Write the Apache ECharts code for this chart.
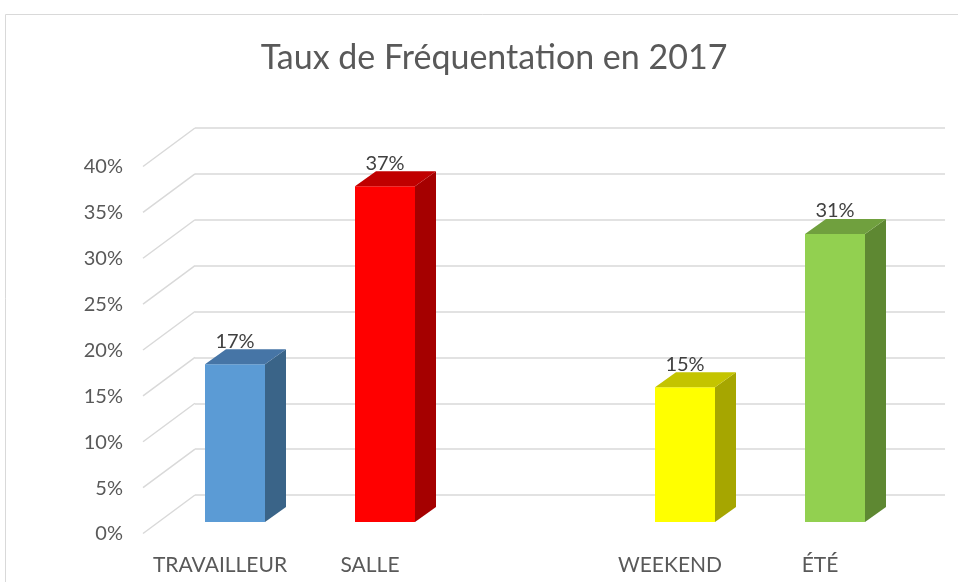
<!DOCTYPE html>
<html>
<head>
<meta charset="utf-8">
<script src="https://cdn.jsdelivr.net/npm/echarts@6/dist/echarts.min.js"></script>
<style>
  html, body { margin: 0; padding: 0; background: #fff; }
  #echarts { width: 958px; height: 582px; }
</style>
</head>
<body>
<div id="echarts"></div>
<script>
// data
const categories = ['TRAVAILLEUR', 'SALLE', '', 'WEEKEND', 'ÉTÉ'];
const rates = [0.172, 0.366, null, 0.147, 0.314];
const gridTicks = [0, 0.05, 0.1, 0.15, 0.2, 0.25, 0.3, 0.35, 0.4];

// front / top / side shades for each column
const faceColors = ['#5b9bd5', '#ff0000', '#999999', '#ffff00', '#92d050'];
const topColors = ['#4675a6', '#c00000', '#777777', '#c4c400', '#70a03e'];
const sideColors = ['#3a6488', '#a50000', '#666666', '#a6a600', '#5e8832'];

const textColor = '#595959';
const fontFamily = 'Lato, "Open Sans", sans-serif';
const depth = [21, -15];        // bar depth offset
const floorShift = [-52, 38.5]; // back wall -> front edge

const pct = v => Math.round(v * 100) + '%';

const chart = echarts.init(document.querySelector('#echarts'));

chart.setOption({
  animation: false,
  title: {
    text: 'Taux de Fréquentation en 2017',
    left: 489,
    textAlign: 'center',
    top: 36,
    textStyle: { color: textColor, fontFamily: fontFamily, fontWeight: 'normal', fontSize: 34 }
  },
  graphic: [{
    type: 'rect',
    shape: { x: 5.5, y: 14.5, width: 1000, height: 1000 },
    style: { fill: null, stroke: '#d9d9d9', lineWidth: 1 },
    silent: true,
    z: -10
  }],
  grid: [
    // bars (front faces)
    { left: 160, right: 48, top: 155, bottom: 60 },
    // back wall
    { left: 195, right: 13, top: 128, bottom: 87 },
    // front edge (labels)
    { left: 145, right: 63, top: 167, bottom: 48 }
  ],
  xAxis: [
    { gridIndex: 0, type: 'category', data: categories, show: false },
    { gridIndex: 1, type: 'value', min: 0, max: 1, show: false },
    {
      gridIndex: 2, type: 'category', data: categories,
      axisLine: { show: false }, axisTick: { show: false },
      axisLabel: { interval: 0, color: textColor, fontFamily: fontFamily, fontSize: 21, margin: 21 }
    }
  ],
  yAxis: [
    { gridIndex: 0, type: 'value', min: 0, max: 0.4, interval: 0.05, show: false },
    {
      gridIndex: 1, type: 'value', min: 0, max: 0.4, interval: 0.05,
      axisLine: { show: false }, axisTick: { show: false }, axisLabel: { show: false },
      splitLine: { show: true, lineStyle: { color: '#d9d9d9', width: 1.5 } }
    },
    {
      gridIndex: 2, type: 'value', min: 0, max: 0.4, interval: 0.05,
      axisLine: { show: false }, axisTick: { show: false }, splitLine: { show: false },
      axisLabel: { color: textColor, fontFamily: fontFamily, fontSize: 20, margin: 22, formatter: pct }
    }
  ],
  series: [
    {
      // diagonal floor lines from back wall to the front edge
      type: 'custom',
      xAxisIndex: 1,
      yAxisIndex: 1,
      silent: true,
      z: 1,
      data: gridTicks.map(t => [0, t]),
      renderItem: function (params, api) {
        const p = api.coord([0, api.value(1)]);
        return {
          type: 'line',
          shape: { x1: p[0], y1: p[1], x2: p[0] + floorShift[0], y2: p[1] + floorShift[1] },
          style: { stroke: '#d9d9d9', lineWidth: 1.5 }
        };
      }
    },
    {
      type: 'custom',
      xAxisIndex: 0,
      yAxisIndex: 0,
      z: 5,
      data: rates.map((v, i) => [i, v]),
      renderItem: function (params, api) {
        const i = api.value(0);
        const v = api.value(1);
        if (v == null || isNaN(v)) return null;
        const top = api.coord([i, v]);
        const base = api.coord([i, 0]);
        const w = api.size([1, 0])[0] * 0.4;
        const xl = top[0] - w / 2;
        const xr = top[0] + w / 2;
        const dx = depth[0], dy = depth[1];
        return {
          type: 'group',
          children: [
            {
              type: 'rect',
              shape: { x: xl, y: top[1], width: w, height: base[1] - top[1] },
              style: { fill: faceColors[i] }
            },
            {
              type: 'polygon',
              shape: { points: [[xr, top[1]], [xr + dx, top[1] + dy], [xr + dx, base[1] + dy], [xr, base[1]]] },
              style: { fill: sideColors[i] }
            },
            {
              type: 'polygon',
              shape: { points: [[xl, top[1]], [xl + dx, top[1] + dy], [xr + dx, top[1] + dy], [xr, top[1]]] },
              style: { fill: topColors[i] }
            },
            {
              type: 'text',
              x: top[0],
              y: top[1] - 13,
              style: {
                text: pct(v),
                fill: '#404040',
                font: '20px ' + fontFamily,
                align: 'center',
                verticalAlign: 'bottom'
              }
            }
          ]
        };
      }
    }
  ]
});
</script>
</body>
</html>
